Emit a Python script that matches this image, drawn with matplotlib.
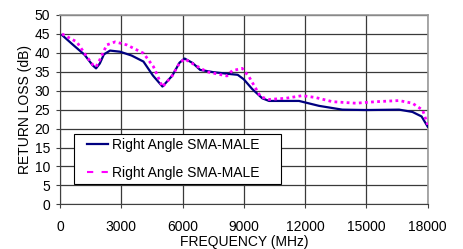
import matplotlib
matplotlib.use("Agg")
import matplotlib.pyplot as plt
from matplotlib.patches import Rectangle

plt.rcParams['font.family'] = ['Liberation Sans', 'DejaVu Sans']

freq_solid = [100, 600, 1200, 1600, 1765, 1950, 2150, 2450, 2940, 3500, 4085, 4550, 5015, 5500, 5850, 6100, 6500, 6860,
              7500, 8330, 8700, 9000, 9400, 9900, 10230, 11000, 11700, 12680, 13820, 15000, 16600, 17250, 17700, 18000]
rl_solid = [44.7, 42.3, 39.5, 36.7, 35.9, 37.2, 39.6, 40.6, 40.3, 39.3, 37.7, 34.0, 31.1, 34.0, 37.4, 38.5, 37.3, 35.5,
            34.9, 34.4, 34.2, 33.0, 30.5, 28.0, 27.3, 27.3, 27.3, 26.0, 25.0, 24.9, 25.0, 24.4, 23.2, 20.5]

freq_dot = [100, 820, 1310, 1600, 1765, 1950, 2290, 2700, 3270, 4085, 4580, 5015, 5500, 5850, 6100, 6600, 7190, 8170,
            8430, 8920, 9250, 9820, 10230, 11050, 11860, 12515, 13340, 14480, 15460, 16600, 17250, 17750, 18000]
rl_dot = [45.0, 42.9, 39.0, 36.9, 36.3, 38.2, 42.1, 42.9, 42.1, 39.9, 36.3, 31.0, 34.0, 37.3, 38.4, 36.8, 35.0, 33.9,
          35.3, 35.9, 33.7, 28.4, 27.7, 28.0, 28.7, 28.2, 27.1, 26.7, 27.1, 27.4, 26.7, 24.9, 21.0]

x_ticks = [0, 3000, 6000, 9000, 12000, 15000, 18000]
y_ticks = [0, 5, 10, 15, 20, 25, 30, 35, 40, 45, 50]
series_labels = ["Right Angle SMA-MALE", "Right Angle SMA-MALE"]

fig = plt.figure(figsize=(4.64, 2.49), dpi=100)
ax = fig.add_axes([0.1293, 0.1795, 0.7925, 0.7603])

ax.plot(freq_solid, rl_solid, color='#000080', lw=1.6, label=series_labels[0], zorder=3)
ax.plot(freq_dot, rl_dot, color='#ff00ff', lw=2.0, ls=(0, (1, 1.2)), label=series_labels[1], zorder=3)

ax.set_xlim(0, 18000)
ax.set_ylim(0, 50)
ax.set_xticks(x_ticks)
ax.set_yticks(y_ticks)
ax.tick_params(labelsize=10, length=3, width=0.8, color='#404040', direction='out')
ax.tick_params(axis='x', pad=8)
ax.tick_params(axis='y', pad=4)
ax.grid(True, color='#3a3a3a', lw=0.9)
ax.set_axisbelow(True)
for s in ['top', 'right']:
    ax.spines[s].set_color('#999999')
    ax.spines[s].set_linewidth(1.2)
for s in ['left', 'bottom']:
    ax.spines[s].set_color('#404040')
ax.set_xlabel('FREQUENCY (MHz)', fontsize=10, labelpad=1)
ax.set_ylabel('RETURN LOSS (dB)', fontsize=10, labelpad=2)

# legend frame
ax.add_patch(Rectangle((0.038, 0.106), 0.564, 0.264, transform=ax.transAxes, facecolor='white',
                       edgecolor='black', lw=0.8, zorder=4))

handles, labels = ax.get_legend_handles_labels()
handles[1] = plt.Line2D([], [], color='#ff00ff', lw=1.5, ls=(0, (3, 4)))
leg = ax.legend(handles, labels, loc='center left', bbox_to_anchor=(0.073, 0.239),
                fontsize=10, frameon=False, labelspacing=1.05, handlelength=1.5,
                borderaxespad=0, handletextpad=0.3, borderpad=0)
leg.set_zorder(5)

fig.savefig('out.png', dpi=100)
